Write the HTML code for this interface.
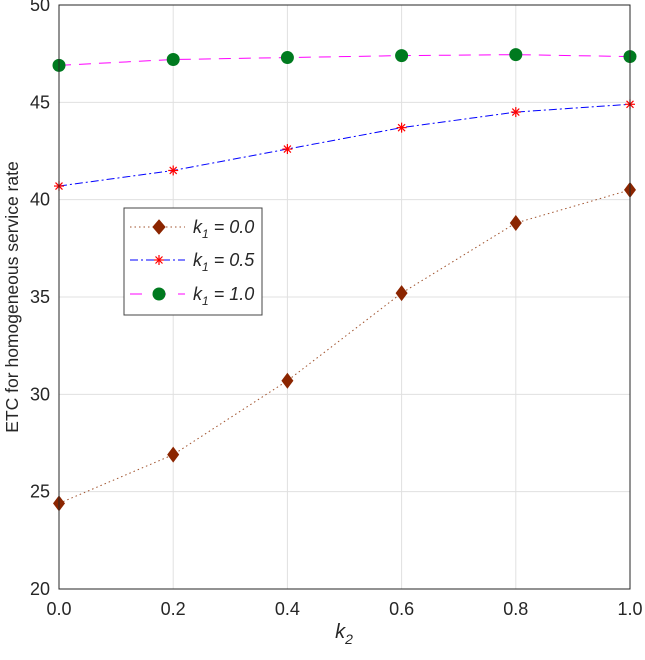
<!DOCTYPE html>
<html><head><meta charset="utf-8"><style>
body{margin:0;background:#fff}
svg{display:block;font-family:"Liberation Sans",Arial,sans-serif}
</style></head><body>
<svg id="chart" width="645" height="660">
<g id="grid"></g>
<g id="marks"></g>
<rect x="59" y="5" width="571" height="584" fill="none" stroke="#262626" stroke-width="1"/>
<g id="ticks"></g>
<text x="344" y="638" font-size="20" font-style="italic" text-anchor="middle" fill="#262626">k<tspan font-size="14" dy="6">2</tspan></text>
<text transform="translate(18,297) rotate(-90)" font-size="17.5" text-anchor="middle" fill="#262626">ETC for homogeneous service rate</text>
<g>
<rect x="124" y="208" width="138" height="107" fill="#fff" stroke="#444" stroke-width="1"/>
<g>
<line x1="130" y1="227" x2="185" y2="227" stroke="#a0522d" stroke-dasharray="1.5,3"/>
<path d="M159,220 L165,227 L159,234 L153,227 Z" fill="#8b2500" stroke="#8b2500"/>
<text x="193" y="233" font-size="18" font-style="italic" fill="#262626">k<tspan font-size="12" dy="5">1</tspan><tspan dy="-5"> = 0.0</tspan></text>
</g>
<g>
<line x1="130" y1="260" x2="185" y2="260" stroke="#0000ff" stroke-dasharray="8,3,2,3"/>
<g stroke="#ff0000" stroke-width="1.2"><line x1="154" y1="260" x2="164" y2="260"/><line x1="159" y1="255" x2="159" y2="265"/><line x1="155.5" y1="256.5" x2="162.5" y2="263.5"/><line x1="162.5" y1="256.5" x2="155.5" y2="263.5"/></g>
<text x="193" y="266" font-size="18" font-style="italic" fill="#262626">k<tspan font-size="12" dy="5">1</tspan><tspan dy="-5"> = 0.5</tspan></text>
</g>
<g>
<line x1="130" y1="294" x2="185" y2="294" stroke="#ff00ff" stroke-dasharray="12,12"/>
<circle cx="159" cy="294" r="6.5" fill="#007a1f"/>
<text x="193" y="300" font-size="18" font-style="italic" fill="#262626">k<tspan font-size="12" dy="5">1</tspan><tspan dy="-5"> = 1.0</tspan></text>
</g>
</g>
</svg>
<script>
const xCats=[0,0.2,0.4,0.6,0.8,1.0];
const s0=[24.4,26.9,30.7,35.2,38.8,40.5];
const s05=[40.7,41.5,42.6,43.7,44.5,44.9];
const s1=[46.9,47.2,47.3,47.4,47.45,47.35];
const yTicks=[20,25,30,35,40,45,50];
const xTickLabels=["0.0","0.2","0.4","0.6","0.8","1.0"];
const X=v=>59+v*571, Y=v=>589-(v-20)*(584/30);
const ns="http://www.w3.org/2000/svg";
function mk(t,a,p){const e=document.createElementNS(ns,t);for(const k in a)e.setAttribute(k,a[k]);p.appendChild(e);return e;}
const grid=document.getElementById('grid'),ticks=document.getElementById('ticks'),marks=document.getElementById('marks');
xCats.forEach((v,i)=>{
 const l=mk('line',{x1:X(v),x2:X(v),y1:5,y2:589,stroke:'#e0e0e0'},grid);
 
 
 const t=mk('text',{x:X(v),y:615,'font-size':18,'text-anchor':'middle',fill:'#262626'},ticks);
 t.textContent=xTickLabels[i];
 
 
});
yTicks.forEach(v=>{
 const l=mk('line',{x1:59,x2:630,y1:Y(v),y2:Y(v),stroke:'#e0e0e0'},grid);
 
 
 const t=mk('text',{x:50,y:Y(v)+6,'font-size':18,'text-anchor':'end',fill:'#262626'},ticks);
 t.textContent=v;
 
 
});
function line(data,stroke,dash,name){
 const p=mk('polyline',{points:data.map((v,i)=>X(xCats[i])+','+Y(v)).join(' '),fill:'none',stroke:stroke,'stroke-dasharray':dash},marks);
 
 
}
line(s0,'#a0522d','1.5,3','line-k1-0.0');
line(s05,'#0000ff','8,3,2,3','line-k1-0.5');
line(s1,'#ff00ff','12,8','line-k1-1.0');
s0.forEach((v,i)=>{const x=X(xCats[i]),y=Y(v);
 const m=mk('path',{d:`M${x},${y-8} L${x+6},${y} L${x},${y+8} L${x-6},${y} Z`,fill:'#8b2500'},marks);
 
 });
s05.forEach((v,i)=>{const x=X(xCats[i]),y=Y(v);
 const g=mk('g',{stroke:'#ff0000','stroke-width':1.2},marks);
 
 
 mk('line',{x1:x-5,x2:x+5,y1:y,y2:y},g);mk('line',{x1:x,x2:x,y1:y-5,y2:y+5},g);
 mk('line',{x1:x-3.5,x2:x+3.5,y1:y-3.5,y2:y+3.5},g);mk('line',{x1:x+3.5,x2:x-3.5,y1:y-3.5,y2:y+3.5},g);});
s1.forEach((v,i)=>{
 const c=mk('circle',{cx:X(xCats[i]),cy:Y(v),r:6.5,fill:'#007a1f'},marks);
 
 });
</script>
</body></html>
